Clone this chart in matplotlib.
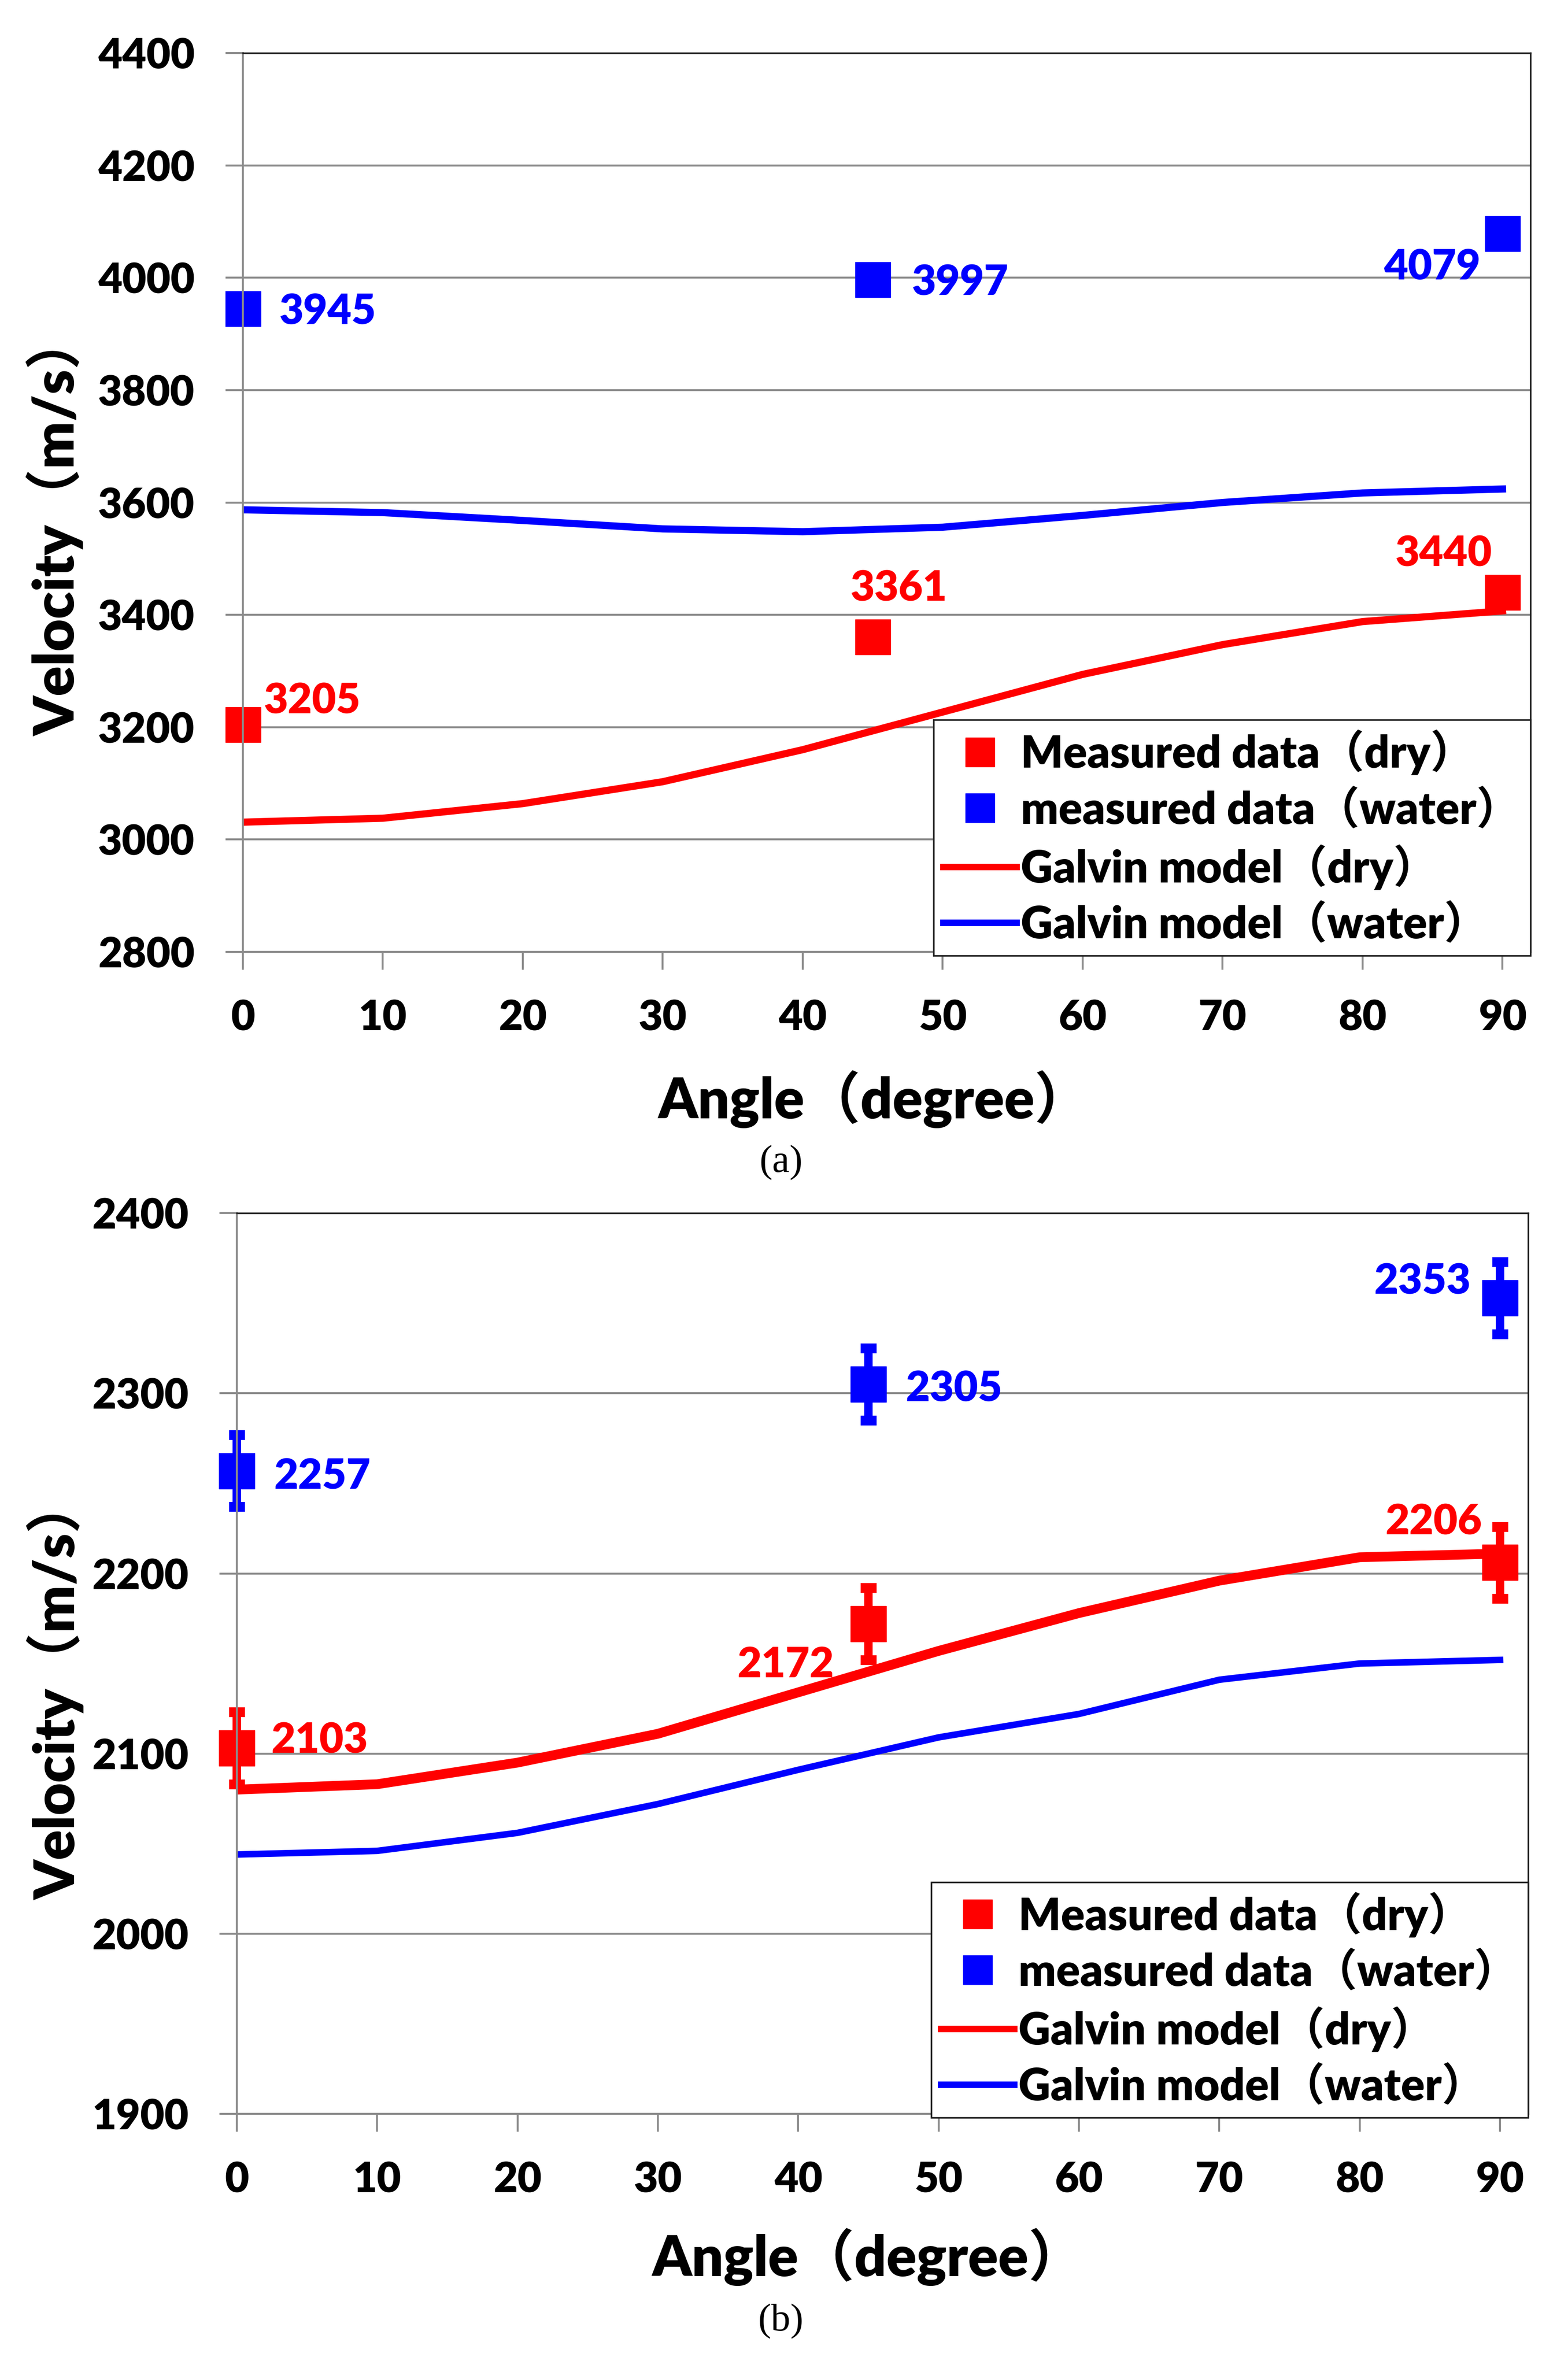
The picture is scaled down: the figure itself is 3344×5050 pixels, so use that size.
import numpy as np
import matplotlib.pyplot as plt
from matplotlib.lines import Line2D

plt.rcParams['font.family'] = ['Lato', 'Noto Sans CJK SC', 'DejaVu Sans']
plt.rcParams['font.weight'] = 'heavy'
plt.rcParams['axes.labelweight'] = 'heavy'

# datos
angle_model = [0, 10, 20, 30, 40, 50, 60, 70, 80, 90]
angle_meas = [0, 45, 90]

# (a)
a_dry_meas = [3205, 3361, 3440]
a_water_meas = [3945, 3997, 4079]
a_dry_model = [3031, 3038, 3064, 3103, 3160, 3227, 3294, 3347, 3388, 3407]
a_water_model = [3587, 3582, 3568, 3553, 3548, 3556, 3577, 3600, 3617, 3624]

# (b)
b_dry_meas = [2103, 2172, 2206]
b_water_meas = [2257, 2305, 2353]
b_dry_err = [20, 20, 20]
b_water_err = [20, 20, 20]
b_dry_model = [2080, 2083, 2095, 2111, 2134, 2157, 2178, 2196, 2209, 2211]
b_water_model = [2044, 2046, 2056, 2072, 2091, 2109, 2122, 2141, 2150, 2152]

legend_labels = ['Measured data（dry）', 'measured data（water）',
                 'Galvin model（dry）', 'Galvin model（water）']

RED = '#ff0000'
BLUE = '#0000ff'
GRID = '#8c8c8c'

fig = plt.figure(figsize=(33.44, 50.5), dpi=100)
ax1 = fig.add_axes([0.1549, 0.598, 0.8212, 0.3796])
ax2 = fig.add_axes([0.151, 0.1073, 0.8236, 0.3804])


def style_axes(ax, ylim, ystep):
    ax.set_xlim(0, 92)
    ax.set_ylim(*ylim)
    ax.set_xticks(np.arange(0, 91, 10))
    ax.set_yticks(np.arange(ylim[0], ylim[1] + 1, ystep))
    ax.grid(axis='y', color=GRID, linewidth=3)
    ax.set_axisbelow(True)
    ax.tick_params(axis='both', direction='out', length=27, width=3,
                   color=GRID, labelsize=64)
    ax.tick_params(axis='x', pad=45)
    ax.tick_params(axis='y', pad=47)
    for s in ['left', 'bottom']:
        ax.spines[s].set_color(GRID)
        ax.spines[s].set_linewidth(3)
    for s in ['top', 'right']:
        ax.spines[s].set_color('#202020')
        ax.spines[s].set_linewidth(2.5)


def add_legend(ax):
    handles = [
        Line2D([], [], marker='s', ls='none', color=RED, ms=45),
        Line2D([], [], marker='s', ls='none', color=BLUE, ms=45),
        Line2D([], [], color=RED, lw=10),
        Line2D([], [], color=BLUE, lw=10),
    ]
    leg = ax.legend(handles, legend_labels, loc='lower right',
                    bbox_to_anchor=(1.0, -0.004), borderaxespad=0,
                    fontsize=68, fancybox=False, framealpha=1,
                    edgecolor='#202020', handlelength=1.65,
                    handletextpad=0.1, borderpad=0.22, labelspacing=0.3)
    leg.get_frame().set_linewidth(2.5)
    leg.set_zorder(10)


# ---------- (a) ----------
style_axes(ax1, (2800, 4400), 200)
ax1.plot(angle_model, a_dry_model, color=RED, lw=11)
ax1.plot(angle_model, a_water_model, color=BLUE, lw=11)
ax1.plot(angle_meas, a_dry_meas, 's', color=RED, ms=54, clip_on=False)
ax1.plot(angle_meas, a_water_meas, 's', color=BLUE, ms=54, clip_on=False)

offs_a_water = [(56, 0, 'left'), (60, 0, 'left'), (-34, -47, 'right')]
offs_a_dry = [(32, 41, 'left'), (40, 79, 'center'), (-16, 64, 'right')]
for x, y, (dx, dy, ha) in zip(angle_meas, a_water_meas, offs_a_water):
    ax1.annotate(str(y), (x, y), xytext=(dx, dy), textcoords='offset points',
                 ha=ha, va='center_baseline', color=BLUE, fontsize=64)
for x, y, (dx, dy, ha) in zip(angle_meas, a_dry_meas, offs_a_dry):
    ax1.annotate(str(y), (x, y), xytext=(dx, dy), textcoords='offset points',
                 ha=ha, va='center_baseline', color=RED, fontsize=64)

add_legend(ax1)
ax1.set_xlabel('Angle（degree）', fontsize=86)
ax1.set_ylabel('Velocity（m/s）', fontsize=86)
ax1.xaxis.set_label_coords(0.4905, -0.164)
ax1.xaxis.label.set_va('center')
ax1.yaxis.set_label_coords(-0.1457, 0.475)
ax1.yaxis.label.set_va('center')

# ---------- (b) ----------
style_axes(ax2, (1900, 2400), 100)
ax2.plot(angle_model, b_dry_model, color=RED, lw=15)
ax2.plot(angle_model, b_water_model, color=BLUE, lw=10)
for yv, err, col in [(b_dry_meas, b_dry_err, RED), (b_water_meas, b_water_err, BLUE)]:
    cont = ax2.errorbar(angle_meas, yv, yerr=err, fmt='s', color=col, ms=55,
                        elinewidth=13, capsize=12, capthick=15)
    for art in cont.get_children():
        art.set_clip_on(False)

offs_b_water = [(57, -4, 'left'), (57, -2, 'left'), (-45, 30, 'right')]
offs_b_dry = [(53, 17, 'left'), (-53, -58, 'right'), (-28, 67, 'right')]
for x, y, (dx, dy, ha) in zip(angle_meas, b_water_meas, offs_b_water):
    ax2.annotate(str(y), (x, y), xytext=(dx, dy), textcoords='offset points',
                 ha=ha, va='center_baseline', color=BLUE, fontsize=64)
for x, y, (dx, dy, ha) in zip(angle_meas, b_dry_meas, offs_b_dry):
    ax2.annotate(str(y), (x, y), xytext=(dx, dy), textcoords='offset points',
                 ha=ha, va='center_baseline', color=RED, fontsize=64)

add_legend(ax2)
ax2.set_xlabel('Angle（degree）', fontsize=86)
ax2.set_ylabel('Velocity（m/s）', fontsize=86)
ax2.xaxis.set_label_coords(0.489, -0.159)
ax2.xaxis.label.set_va('center')
ax2.yaxis.set_label_coords(-0.14, 0.472)
ax2.yaxis.label.set_va('center')

# subtitulos
fig.text(0.498, 0.509, '(a)', ha='center', va='center', fontsize=60,
         family=['Liberation Serif', 'DejaVu Serif'], weight='normal')
fig.text(0.498, 0.0196, '(b)', ha='center', va='center', fontsize=60,
         family=['Liberation Serif', 'DejaVu Serif'], weight='normal')

fig.savefig('out.png', dpi=100, facecolor='white')
